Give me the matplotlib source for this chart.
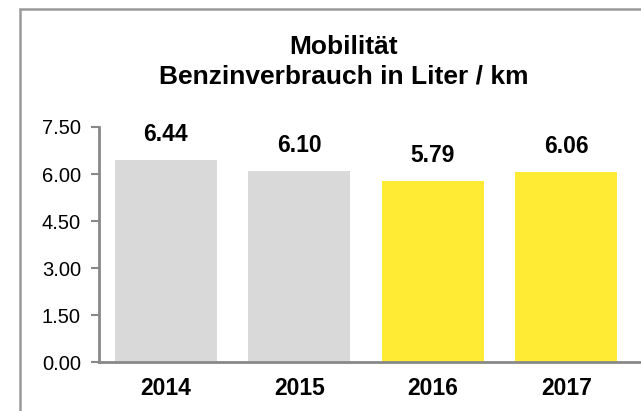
import matplotlib
matplotlib.use("Agg")
import matplotlib.pyplot as plt
from matplotlib.patches import Rectangle

years = ["2014", "2015", "2016", "2017"]
values = [6.44, 6.10, 5.79, 6.06]
colors = ["#D9D9D9", "#D9D9D9", "#FFEB33", "#FFEB33"]
yticks = [0.0, 1.5, 3.0, 4.5, 6.0, 7.5]
title = "Mobilität\nBenzinverbrauch in Liter / km"

plt.rcParams['font.family'] = ['Liberation Sans', 'DejaVu Sans']

W, H = 641, 411
fig = plt.figure(figsize=(W / 100, H / 100), dpi=100)

# outer frame
fig.patches.append(Rectangle((19.5 / W, -0.1), 1.2, (H - 9) / H + 0.1,
                             transform=fig.transFigure, fill=False,
                             edgecolor="#999999", linewidth=1.8))

left, right = 99 / W, 1.0
bottom, top = (H - 362) / H, (H - 127) / H
ax = fig.add_axes([left, bottom, right - left, top - bottom])

x = list(range(len(years)))
ax.bar(x, values, width=0.762, color=colors, zorder=2)
ax.set_xlim(-0.5, (W - 99) / 133.5 - 0.5)
ax.set_ylim(0, 7.5)
ax.set_yticks(yticks)
ax.set_yticklabels([f"{v:.2f}" for v in yticks], fontsize=14.5)
ax.set_xticks(x)
ax.set_xticklabels(years, fontsize=16.5, fontweight="bold")
ax.tick_params(axis="x", length=0, pad=11)
ax.tick_params(axis="y", length=6, width=1.5, color="#888888", pad=7)

for s in ["top", "right"]:
    ax.spines[s].set_visible(False)
for s in ["left", "bottom"]:
    ax.spines[s].set_color("#888888")
    ax.spines[s].set_linewidth(2)

for xi, v in zip(x, values):
    ax.annotate(f"{v:.2f}", (xi, v), xytext=(0, 14), textcoords="offset pixels",
                ha="center", va="bottom", fontsize=16.5, fontweight="bold")

fig.text(344 / W, 1 - 35 / H, title, ha="center", va="top",
         fontsize=19, fontweight="bold", linespacing=1.3)

fig.savefig("out.png", dpi=100)
